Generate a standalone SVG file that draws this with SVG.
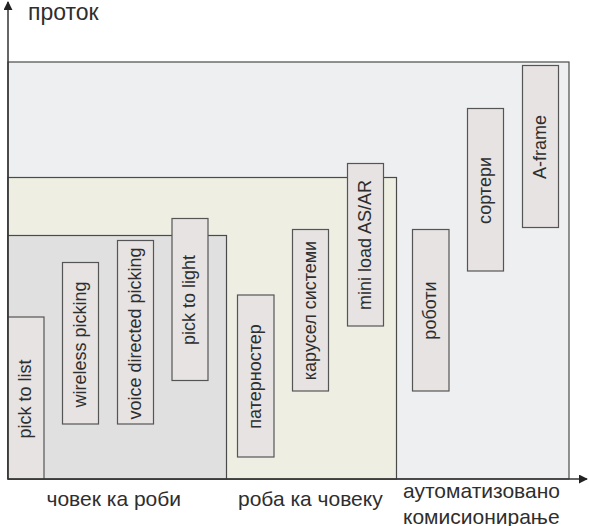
<svg xmlns="http://www.w3.org/2000/svg" width="589" height="526" viewBox="0 0 589 526">
<defs>
<style>
.zone{stroke:#4a4a4a;stroke-width:1.2}
.node rect{fill:#e6e3e2;stroke:#555;stroke-width:1.2}
.node text{font-family:"Liberation Sans",Arial,sans-serif;font-size:18px;fill:#2e2e2e;text-anchor:middle}
.lbl{font-family:"Liberation Sans",Arial,sans-serif;font-size:21px;fill:#2e2e2e}
.axis{stroke:#333;stroke-width:1.5;fill:none}
</style>
<marker id="arr" viewBox="0 0 10 10" refX="9" refY="5" markerWidth="9" markerHeight="9" markerUnits="userSpaceOnUse" orient="auto">
<path d="M0,0 L10,5 L0,10 z" fill="#222"/>
</marker>
</defs>
<rect width="589" height="526" fill="#fff"/>
<g id="zones">
<rect class="zone" x="8" y="62" width="561" height="417" fill="#eeeff1"/>
<rect class="zone" x="8" y="177.5" width="388.5" height="301.5" fill="#eeefe2"/>
<rect class="zone" x="8" y="235.5" width="218.5" height="243.5" fill="#dfe0df"/>
</g>
<g id="n1" class="node"><rect x="8" y="317" width="36" height="162"/><text transform="translate(26,399) rotate(-90)" dy="5">pick to list</text></g>
<g id="n2" class="node"><rect x="62.5" y="262.5" width="36" height="161.5"/><text transform="translate(80.5,344.5) rotate(-90)" dy="5">wireless picking</text></g>
<g id="n3" class="node"><rect x="117.5" y="240.5" width="36" height="183.5"/><text transform="translate(135.5,333.5) rotate(-90)" dy="5">voice directed picking</text></g>
<g id="n4" class="node"><rect x="172" y="218.5" width="36" height="162"/><text transform="translate(190,300) rotate(-90)" dy="5">pick to light</text></g>
<g id="n5" class="node"><rect x="237.5" y="295" width="36.5" height="162"/><text transform="translate(256,376.5) rotate(-90)" dy="5">патерностер</text></g>
<g id="n6" class="node"><rect x="292.5" y="229.5" width="36" height="161.5"/><text transform="translate(310.5,310.5) rotate(-90)" dy="5">карусел системи</text></g>
<g id="n7" class="node"><rect x="347.5" y="163.5" width="36" height="162.5"/><text transform="translate(365.5,245) rotate(-90)" dy="5">mini load AS/AR</text></g>
<g id="n8" class="node"><rect x="412.5" y="229.5" width="36.5" height="161.5"/><text transform="translate(431,310.5) rotate(-90)" dy="5">роботи</text></g>
<g id="n9" class="node"><rect x="467.5" y="108.5" width="36" height="162.5"/><text transform="translate(485.5,190.5) rotate(-90)" dy="5">сортери</text></g>
<g id="n10" class="node"><rect x="522.5" y="65.5" width="36" height="162"/><text transform="translate(540.5,147) rotate(-90)" dy="5">A-frame</text></g>
<g id="connectors">
<line class="axis" x1="8" y1="479" x2="8" y2="2" marker-end="url(#arr)"/>
<line class="axis" x1="8" y1="479" x2="587" y2="479" marker-end="url(#arr)"/>
</g>
<g id="labels">
<text x="28" y="20" class="lbl" style="font-size:23px">проток</text>
<text x="46.5" y="506" class="lbl">човек ка роби</text>
<text x="238" y="506" class="lbl">роба ка човеку</text>
<text x="403" y="498" class="lbl">аутоматизовано</text>
<text x="403" y="523.5" class="lbl">комисионирање</text>
</g>
</svg>
